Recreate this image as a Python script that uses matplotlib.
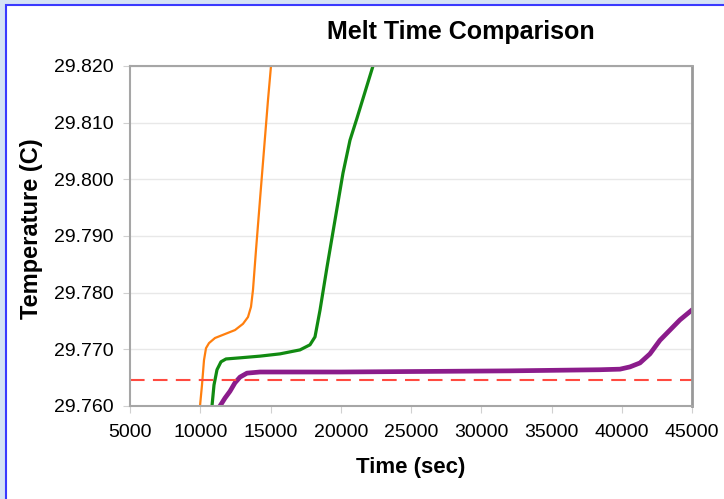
import matplotlib
matplotlib.use('Agg')
import matplotlib.pyplot as plt
from matplotlib.patches import Rectangle

# values
orange_t = [9982, 10124, 10267, 10409, 10622, 11050, 11761, 12473, 13042,
            13398, 13612, 13754, 13967, 14252, 14537, 14822, 15035]
orange_T = [29.7600, 29.7637, 29.7681, 29.7702, 29.7711, 29.7720, 29.7727,
            29.7734, 29.7745, 29.7757, 29.7775, 29.7805, 29.7875, 29.7964,
            29.8052, 29.8140, 29.8200]

green_t = [10836, 10978, 11192, 11476, 11832, 12829, 14252, 15676, 17099,
           17811, 18167, 18523, 19021, 19590, 20159, 20657, 21156, 21725, 22294]
green_T = [29.7600, 29.7637, 29.7664, 29.7678, 29.7683, 29.7685, 29.7688,
           29.7692, 29.7699, 29.7708, 29.7722, 29.7769, 29.7845, 29.7928,
           29.8011, 29.8069, 29.8108, 29.8154, 29.8200]

purple_t = [11405, 11761, 12117, 12473, 12829, 13327, 14252, 20000, 26000,
            32000, 38450, 39873, 40584, 41296, 42007, 42719, 43431, 44143, 44925]
purple_T = [29.7600, 29.7614, 29.7626, 29.7641, 29.7651, 29.7658, 29.7660,
            29.7660, 29.7661, 29.7662, 29.7664, 29.7665, 29.7669, 29.7676,
            29.7692, 29.7716, 29.7734, 29.7752, 29.7768]

threshold = 29.7646

x_ticks = [5000, 10000, 15000, 20000, 25000, 30000, 35000, 40000, 45000]
y_ticks = [29.760, 29.770, 29.780, 29.790, 29.800, 29.810, 29.820]

W, H = 724, 499
fig = plt.figure(figsize=(W / 100, H / 100), dpi=100)
fig.patch.set_facecolor('#d5e3f5')
fig.patches.append(Rectangle((6 / W, -0.1), 1.2, 1.1 - 5.5 / H,
                             transform=fig.transFigure, facecolor='white',
                             edgecolor='#3a3aff', linewidth=1.5, zorder=-10))

ax = fig.add_axes([130 / W, 1 - 406 / H, 562 / W, 340 / H])
ax.plot(orange_t, orange_T, color='#ff7f0e', lw=1.6)
ax.plot(green_t, green_T, color='#118a11', lw=2.3)
ax.plot(purple_t, purple_T, color='#8b1c8b', lw=3.4)
ax.axhline(threshold, color='#ff4a40', lw=1.5, dashes=(7, 4))

ax.set_xlim(5000, 45000)
ax.set_ylim(29.760, 29.820)
ax.set_xticks(x_ticks)
ax.set_yticks(y_ticks)
ax.set_yticklabels([f'{v:.3f}' for v in y_ticks])
ax.grid(axis='y', color='#e8e8e8', lw=1)
ax.set_axisbelow(True)
ax.tick_params(axis='both', direction='out', length=5, color='#d0d0d0',
               labelsize=14, labelcolor='black')
ax.tick_params(axis='x', pad=8)
ax.tick_params(axis='y', pad=7)
for s in ax.spines.values():
    s.set_color('#a6a6a6')
    s.set_linewidth(1.5)
ax.spines['right'].set_color('#999999')
ax.spines['right'].set_linewidth(2)
for lab in ax.get_xticklabels() + ax.get_yticklabels():
    lab.set_fontfamily('Liberation Sans')

fig.text(461 / W, 1 - 32 / H, 'Melt Time Comparison', ha='center', va='center',
         fontsize=18, fontweight='bold', family='Liberation Sans')
fig.text(411 / W, 1 - 468 / H, 'Time (sec)', ha='center', va='center',
         fontsize=16, fontweight='bold', family='Liberation Sans')
fig.text(32 / W, 1 - 229 / H, 'Temperature (C)', ha='center', va='center',
         rotation=90, fontsize=17, fontweight='bold', family='Liberation Sans')

fig.savefig('out.png', dpi=100, facecolor=fig.get_facecolor())
